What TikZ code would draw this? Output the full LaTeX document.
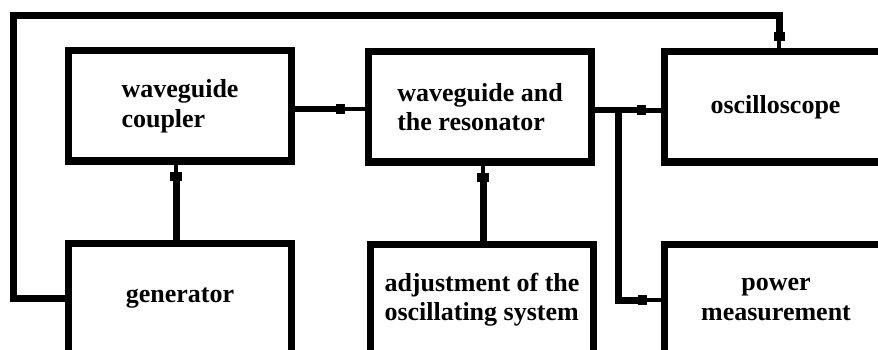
\documentclass[tikz,border=0pt]{standalone}
\usepackage{fontspec}
\setmainfont{Liberation Serif}
\usetikzlibrary{calc}
\tikzset{
  box/.style={draw, line width=7pt, minimum width=223pt, minimum height=110pt,
    inner sep=0pt, font=\fontsize{26}{29.5}\selectfont\bfseries},
  wire/.style={line width=7pt},
  hwire/.style={line width=6pt},
  stub/.style={line width=4.5pt},
}
\begin{document}
\begin{tikzpicture}[x=1pt,y=-1pt]
\useasboundingbox (0,0) rectangle (878,350);
\clip (0,0) rectangle (878,350);
% boxes
\node[box, align=left]   (coup) at (180,106)   {waveguide\\coupler};
\node[box, align=left]   (res)  at (480,107)   {waveguide and\\the resonator};
\node[box, align=center] (osc)  at (775.5,107) {oscilloscope};
\node[box, align=center] (gen)  at (180,298.5) {generator};
\node[box, align=left]   (adj)  at (482,299.5) {adjustment of the\\oscillating system};
\node[box, align=center] (pow)  at (776,299.5) {power\\measurement};
% helper coordinates
\coordinate (lg)  at ($(gen.west)+(0,-0.5)$);
\coordinate (l1)  at (13.5,298);
\coordinate (l2)  at (13.5,15.5);
\coordinate (l3)  at (779,15.5);
\coordinate (m0)  at (779,36);
\coordinate (oT)  at ($(osc.north)+(3.5,0)$);
\coordinate (cE)  at ($(coup.east)+(0,3)$);
\coordinate (m1)  at ($(cE)!0.65!(res.west |- cE)$);
\coordinate (gN)  at ($(gen.north)+(-4,0)$);
\coordinate (m2)  at ($(gN |- coup.south)+(0,12)$);
\coordinate (aN)  at ($(adj.north)+(1,0)$);
\coordinate (m3)  at ($(aN |- res.south)+(0,12)$);
\coordinate (rE)  at ($(res.east)+(0,3.5)$);
\coordinate (jt)  at (618.5,110.5);
\coordinate (m4)  at (641.5,110.5);
\coordinate (jb)  at (618.5,300);
\coordinate (m5)  at (642.5,300);
% feedback loop generator -> oscilloscope
\draw[wire, line join=miter] (lg) -- (l1) -- (l2) -- (l3) -- (m0);
\draw[stub] (m0) -- (oT |- osc.north);
\fill ($(m0)+(-5.5,-4)$) rectangle ++(11,9);
% coupler -> resonator
\draw[hwire] (cE) -- (m1);
\draw[stub] (m1) -- (res.west |- m1);
\fill ($(m1)+(-4.5,-5)$) rectangle ++(9,10);
% generator -> coupler
\draw[wire] (gN) -- (m2);
\draw[stub] (m2) -- (m2 |- coup.south);
\fill ($(m2)+(-6,-4.5)$) rectangle ++(12,9);
% adjustment -> resonator
\draw[wire] (aN) -- (m3);
\draw[stub] (m3) -- (m3 |- res.south);
\fill ($(m3)+(-6,-4.5)$) rectangle ++(12,9);
% resonator -> oscilloscope
\draw[hwire] (rE) -- (m4);
\draw[stub] (m4) -- (osc.west |- m4);
\fill ($(m4)+(-4.5,-5)$) rectangle ++(9,10);
% branch -> power measurement
\draw[wire, line join=miter] ($(jt)+(0,-3)$) -- (jb) -- (m5);
\draw[stub] (m5) -- (pow.west |- m5);
\fill ($(m5)+(-4.5,-5)$) rectangle ++(9,10);
\end{tikzpicture}
\end{document}
